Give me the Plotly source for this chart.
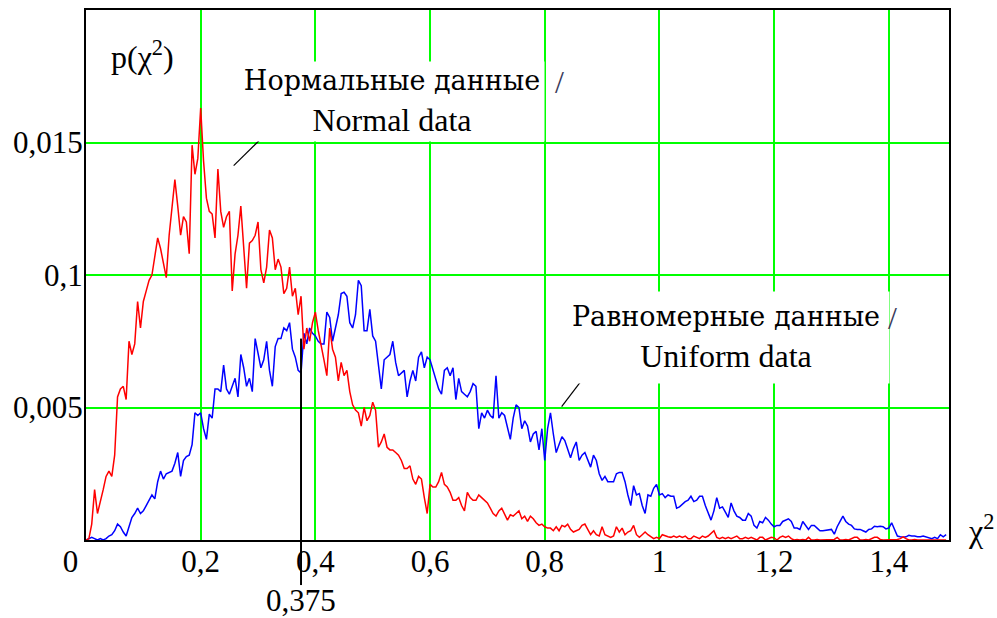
import plotly.graph_objects as go

# ---- data (p values in units of 1e-3), chi^2 grid step 0.005 from 0 to 1.5 ----
chi2_step = 0.005

normal_p_e3 = [
    0, 0.05, 0.6, 1.9, 1.0, 1.4, 1.9, 2.4, 2.6, 2.4, 3.2, 5.4, 5.7, 5.8, 5.3, 7.5, 7.0, 7.4, 9.0, 8.0,
    9.0, 9.4, 9.8, 10.0, 10.8, 11.4, 11.0, 10.4, 9.9, 11.5, 12.5, 13.6, 12.6, 11.5, 12.2, 12.0, 10.8, 14.9, 13.8, 14.4,
    16.3, 14.3, 12.9, 12.4, 12.3, 11.4, 14.0, 12.4, 11.8, 12.2, 12.4, 9.4, 10.8, 11.5, 12.6, 11.0, 9.5, 11.2, 11.3, 11.5,
    12.0, 10.2, 9.7, 10.3, 11.7, 11.4, 10.2, 10.6, 10.3, 9.3, 9.5, 10.3, 9.2, 9.5, 8.5, 9.2, 7.2, 8.0, 7.5, 8.2,
    8.6, 7.9, 7.4, 6.8, 6.2, 8.0, 7.2, 6.9, 6.0, 6.7, 6.2, 6.4, 5.6, 5.1, 4.9, 4.8, 4.3, 5.0, 4.5, 4.7,
    5.2, 4.9, 3.5, 3.7, 4.0, 3.5, 3.4, 3.4, 3.3, 3.2, 3.0, 2.7, 2.7, 2.8, 2.3, 2.1, 2.4, 2.3, 1.6, 1.0,
    2.1, 2.0, 2.0, 2.2, 2.55, 2.1, 2.0, 1.8, 1.5, 1.5, 1.6, 1.3, 1.1, 1.8, 1.6, 1.5, 1.5, 1.7, 1.6, 1.5,
    1.4, 1.2, 1.0, 0.9, 1.1, 1.2, 1.0, 0.75, 0.95, 0.9, 1.0, 1.1, 0.8, 0.9, 0.7, 0.9, 0.8, 0.65, 0.55, 0.6,
    0.5, 0.45, 0.45, 0.35, 0.5, 0.35, 0.55, 0.5, 0.6, 0.4, 0.3, 0.35, 0.4, 0.55, 0.6, 0.4, 0.2, 0.35, 0.2, 0.15,
    0.5, 0.2, 0.15, 0.1, 0.15, 0.5, 0.3, 0.45, 0.2, 0.3, 0.35, 0.55, 0.2, 0.1, 0.2, 0.3, 0.2, 0.12, 0.05, 0.1,
    0.05, 0.2, 0.15, 0.12, 0.1, 0.15, 0.1, 0.15, 0.1, 0.15, 0.05, 0.05, 0.15, 0.1, 0.05, 0.15, 0.1, 0.15, 0.25, 0.35,
    0.1, 0.05, 0.1, 0.05, 0.1, 0.05, 0.1, 0.15, 0.05, 0.05, 0.1, 0.05, 0.1, 0.05, 0.0, 0.1, 0.1, 0.0, 0.05, 0.1,
    0.08, 0.0, 0.1, 0.15, 0.1, 0.15, 0.05, 0.0, 0.02, 0.0, 0.02, 0.0, 0.1, 0.0, 0.0, 0.02, 0.0, 0.0, 0.02, 0.0,
    0.0, 0.02, 0.1, 0.0, 0.0, 0.02, 0.0, 0.05, 0.1, 0.1, 0.0, 0.0, 0.02, 0.0, 0.05, 0.1, 0.1, 0.02, 0.0, 0.0,
    0.02, 0.0, 0.0, 0.02, 0.05, 0.12, 0.05, 0.0, 0.0, 0.02, 0.0, 0.0, 0.0, 0.02, 0.0, 0.0, 0.0, 0.02, 0.0, 0.0,
    0.0,
]

uniform_p_e3 = [
    0.0, 0.05, 0.1, 0.05, 0.0, 0.05, 0.0, 0.05, 0.15, 0.2, 0.35, 0.6, 0.5, 0.3, 0.15, 0.5, 0.85, 1.0, 1.2, 1.0,
    1.1, 1.3, 1.5, 1.7, 1.55, 2.2, 2.6, 2.3, 2.5, 2.55, 2.6, 2.9, 3.3, 2.4, 3.0, 3.15, 3.2, 3.6, 4.8, 4.7,
    4.8, 4.2, 3.8, 4.75, 4.6, 5.7, 5.7, 5.6, 6.6, 5.7, 5.5, 5.8, 6.1, 5.4, 7.0, 6.5, 5.8, 6.1, 5.6, 7.6,
    7.1, 6.5, 6.8, 7.5, 6.4, 5.8, 7.3, 7.6, 7.6, 8.0, 7.9, 8.2, 7.2, 6.9, 6.4, 6.3, 7.8, 7.4, 8.0, 7.8,
    7.7, 7.5, 7.4, 7.4, 8.6, 8.4, 7.5, 8.0, 8.5, 9.3, 9.35, 9.2, 8.2, 8.0, 8.5, 9.8, 9.6, 7.9, 7.9, 8.7,
    7.7, 7.5, 6.5, 5.7, 6.8, 6.9, 7.0, 7.5, 6.7, 6.2, 6.3, 6.4, 5.4, 6.0, 6.4, 6.0, 6.9, 7.1, 6.5, 6.9,
    6.8, 6.4, 6.1, 5.7, 5.5, 6.4, 6.5, 6.2, 6.5, 5.3, 6.1, 5.6, 5.5, 5.4, 5.6, 5.9, 5.8, 4.2, 4.8, 4.6,
    4.9, 4.7, 4.6, 6.2, 4.6, 4.8, 4.7, 4.3, 3.8, 4.6, 5.1, 5.0, 4.2, 4.5, 4.3, 3.7, 4.0, 4.1, 3.4, 4.2,
    3.0, 4.2, 4.8, 4.0, 3.3, 3.6, 3.9, 3.75, 3.4, 3.1, 3.45, 3.7, 3.0, 3.2, 3.3, 3.0, 2.75, 3.2, 3.0, 2.5,
    2.25, 2.4, 2.2, 2.2, 2.2, 2.5, 2.55, 2.55, 2.2, 1.7, 1.3, 2.05, 1.7, 1.75, 1.3, 1.0, 1.7, 1.65, 1.95, 2.1,
    1.7, 1.75, 1.6, 1.7, 1.65, 1.65, 1.2, 1.25, 1.35, 1.45, 1.5, 1.65, 1.45, 1.5, 1.65, 1.65, 1.3, 1.0, 0.75, 1.1,
    1.6, 1.2, 1.25, 1.05, 0.85, 1.4, 1.1, 0.9, 0.85, 0.75, 0.75, 1.0, 0.9, 0.55, 0.45, 0.7, 0.65, 0.85, 0.75, 0.6,
    0.5, 0.55, 0.55, 0.7, 0.75, 0.8, 0.7, 0.45, 0.45, 0.4, 0.7, 0.55, 0.4, 0.55, 0.55, 0.45, 0.35, 0.35, 0.37, 0.4,
    0.4, 0.22, 0.5, 0.7, 0.9, 0.7, 0.6, 0.55, 0.42, 0.4, 0.4, 0.35, 0.3, 0.4, 0.42, 0.52, 0.5, 0.52, 0.5, 0.42,
    0.45, 0.65, 0.4, 0.15, 0.12, 0.1, 0.12, 0.18, 0.15, 0.15, 0.12, 0.12, 0.15, 0.12, 0.1, 0.05, 0.1, 0.05, 0.2, 0.12,
    0.2,
]

x_tick_vals = [0, 0.2, 0.4, 0.6, 0.8, 1.0, 1.2, 1.4]
x_tick_text = ["0\u00a0\u00a0\u00a0\u00a0", "0,2", "0,4", "0,6", "0,8", "1", "1,2", "1,4"]
y_tick_vals = [0.005, 0.01, 0.015]
y_tick_text = ["0,005", "0,1", "0,015"]

marker_chi2 = 0.375          # vertical reference line
marker_label = "0,375"
marker_p = 0.0076            # height where the reference line ends

label_normal_ru, label_normal_en = "Нормальные данные", "Normal data"
label_uniform_ru, label_uniform_en = "Равномерные данные", "Uniform data"

X_RANGE = [0, 1.505]
Y_RANGE = [0, 0.02]

chi2 = [round(i * chi2_step, 3) for i in range(len(normal_p_e3))]
normal_p = [v * 1e-3 for v in normal_p_e3]
uniform_p = [v * 1e-3 for v in uniform_p_e3]

FONT = "Liberation Serif, DejaVu Serif"
CYR_SPAN = '<span style="font-family:\'DejaVu Serif\';font-size:27px">{}</span>'
FS_TICK = 31
FS_TXT = 32

fig = go.Figure()
fig.add_trace(go.Scatter(x=chi2, y=uniform_p, mode="lines",
                         line=dict(color="#0000FF", width=1.5), showlegend=False))
fig.add_trace(go.Scatter(x=chi2, y=normal_p, mode="lines",
                         line=dict(color="#FF0000", width=1.5), showlegend=False))

axis_common = dict(showgrid=True, gridcolor="#00FF00", gridwidth=1.5,
                   showline=True, mirror=True, linecolor="#000000", linewidth=2,
                   zeroline=False, ticks="", automargin=False,
                   tickfont=dict(family=FONT, size=FS_TICK, color="#000"))

fig.update_xaxes(range=X_RANGE, tickvals=x_tick_vals, ticktext=x_tick_text,
                 ticklabelstandoff=-7, **axis_common)
fig.update_yaxes(range=Y_RANGE, tickvals=y_tick_vals, ticktext=y_tick_text,
                 ticklabelstandoff=-5, **axis_common)

def to_paper_y(v):
    return (v - Y_RANGE[0]) / (Y_RANGE[1] - Y_RANGE[0])

shapes = [
    dict(type="line", xref="x", yref="paper", x0=marker_chi2, x1=marker_chi2,
         y0=-0.085, y1=to_paper_y(marker_p), line=dict(color="#000", width=2)),
    # leader lines
    dict(type="line", xref="x", yref="y", x0=0.2575, y0=0.01413, x1=0.3534, y1=0.01617,
         line=dict(color="#000", width=1.2)),
    dict(type="line", xref="x", yref="y", x0=0.8295, y0=0.00503, x1=0.9132, y1=0.00741,
         line=dict(color="#000", width=1.2)),
]

txt = dict(family=FONT, size=FS_TXT, color="#000")
ctr = dict(xanchor="center", yanchor="middle", showarrow=False)
annotations = [
    dict(text="p(χ<sup>2</sup>)", xref="paper", yref="paper", x=0.065, y=0.915,
         font=txt, **ctr),
    dict(text=CYR_SPAN.format(label_normal_ru) + "<br>" + label_normal_en,
         xref="paper", yref="paper", x=0.354, y=0.827,
         font=txt, bgcolor="#FFFFFF", width=302, height=77, align="center", **ctr),
    dict(text="/", xref="paper", yref="paper", x=0.549, y=0.864,
         font=dict(family=FONT, size=FS_TXT, color="#3a3a5a"), **ctr),
    dict(text=CYR_SPAN.format(label_uniform_ru) + "<br>" + label_uniform_en,
         xref="paper", yref="paper", x=0.742, y=0.383,
         font=txt, bgcolor="#FFFFFF", width=324, height=89, align="center", **ctr),
    dict(text="/", xref="paper", yref="paper", x=0.935, y=0.419,
         font=dict(family=FONT, size=FS_TXT, color="#3a3a5a"), **ctr),
    dict(text=marker_label, xref="x", yref="paper", x=marker_chi2, y=-0.115,
         font=dict(family=FONT, size=31, color="#000"), **ctr),
    dict(text="χ<sup>2</sup>", xref="paper", yref="paper", x=1.037, y=0.02,
         font=txt, **ctr),
]

fig.update_layout(width=997, height=618, margin=dict(l=86, r=48, t=10, b=78),
                  paper_bgcolor="#FFFFFF", plot_bgcolor="#FFFFFF",
                  shapes=shapes, annotations=annotations, showlegend=False)

fig.write_html("out.html", config={"displayModeBar": False},
               post_script="document.body.style.margin='0';document.body.style.overflow='hidden';")
